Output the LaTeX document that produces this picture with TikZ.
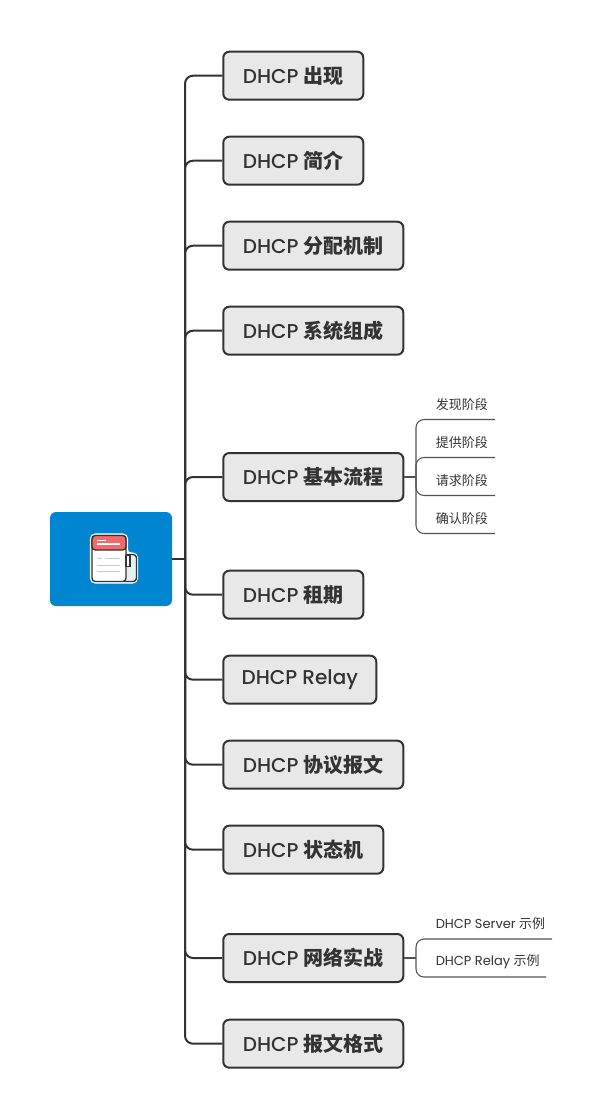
\documentclass[tikz,border=0pt]{standalone}
\usepackage{fontspec}
\setmainfont{Poppins}[BoldFont=Poppins Medium]
\newfontfamily\cjk{Noto Sans CJK SC}
\definecolor{ink}{HTML}{333333}
\definecolor{topicfill}{HTML}{E8E8E8}
\definecolor{rootblue}{HTML}{0085D0}
\definecolor{paperred}{HTML}{F26B6B}
\definecolor{paperroll}{HTML}{E4F1F1}
\definecolor{paperline}{HTML}{BCCFCF}
\newcommand{\zh}[1]{{\cjk\bfseries #1}}
\newcommand{\zhsub}[1]{{\cjk #1}}
\tikzstyle{rootbox} = [rectangle, rounded corners=4.5pt, minimum width=91.5pt, minimum height=70.5pt, fill=rootblue]
\tikzstyle{topicbox} = [rectangle, rounded corners=4.5pt, anchor=west, minimum height=36pt, inner sep=0pt, draw=ink, line width=1.5pt, fill=topicfill, text=ink, font=\fontsize{15pt}{18pt}\selectfont\bfseries]
\tikzstyle{short} = [minimum width=105pt]
\tikzstyle{long} = [minimum width=135pt]
\tikzstyle{subtext} = [anchor=west, inner sep=0pt, text=ink, font=\fontsize{9.75pt}{12pt}\selectfont]
\tikzstyle{branch} = [draw=ink, line width=1.5pt, rounded corners=6pt]
\tikzstyle{subbranch} = [draw=ink!85, line width=0.8pt, rounded corners=6pt]

\begin{document}
\begin{tikzpicture}[x=0.75pt, y=-0.75pt]
  \useasboundingbox (0,0) rectangle (602,1118);

  \node (root) [rootbox] at (111,559) {};
  \coordinate (trunk) at (185,559);

  \node (chuxian) [topicbox, short] at (222.3,75.7) {DHCP \zh{出现}};
  \node (jianjie) [topicbox, short] at (222.3,160.7) {DHCP \zh{简介}};
  \node (fenpei) [topicbox, long] at (222.3,245.7) {DHCP \zh{分配机制}};
  \node (xitong) [topicbox, long] at (222.3,330.7) {DHCP \zh{系统组成}};
  \node (liucheng) [topicbox, long] at (222.3,477) {DHCP \zh{基本流程}};
  \node (zuqi) [topicbox, short] at (222.3,594.7) {DHCP \zh{租期}};
  \node (relay) [topicbox, minimum width=114.75pt] at (222.3,679.7) {DHCP Relay};
  \node (xieyi) [topicbox, long] at (222.3,764.7) {DHCP \zh{协议报文}};
  \node (zhuangtai) [topicbox, minimum width=120pt] at (222.3,849.7) {DHCP \zh{状态机}};
  \node (wangluo) [topicbox, long] at (222.3,958) {DHCP \zh{网络实战}};
  \node (geshi) [topicbox, long] at (222.3,1043.7) {DHCP \zh{报文格式}};

  \draw [branch] (root.east) -- (trunk);
  \draw [branch] (trunk) |- (chuxian.west);
  \draw [branch] (trunk) |- (jianjie.west);
  \draw [branch] (trunk) |- (fenpei.west);
  \draw [branch] (trunk) |- (xitong.west);
  \draw [branch] (trunk) |- (liucheng.west);
  \draw [branch] (trunk) |- (zuqi.west);
  \draw [branch] (trunk) |- (relay.west);
  \draw [branch] (trunk) |- (xieyi.west);
  \draw [branch] (trunk) |- (zhuangtai.west);
  \draw [branch] (trunk) |- (wangluo.west);
  \draw [branch] (trunk) |- (geshi.west);

  % steps of the basic flow
  \node (faxian) [subtext] at (435.5,404.5) {\zhsub{发现阶段}};
  \node (tigong) [subtext] at (435.5,442.5) {\zhsub{提供阶段}};
  \node (qingqiu) [subtext] at (435.5,480.5) {\zhsub{请求阶段}};
  \node (queren) [subtext] at (435.5,518.5) {\zhsub{确认阶段}};
  \coordinate (flowfork) at (416,477);
  \coordinate (faxianend) at (495,419.5);
  \coordinate (tigongend) at (495,457.5);
  \coordinate (qingqiuend) at (495,495.5);
  \coordinate (querenend) at (495,533.5);
  \draw [subbranch] (liucheng.east) -- (flowfork);
  \draw [subbranch] (flowfork) |- (faxianend);
  \draw [subbranch] (flowfork) |- (tigongend);
  \draw [subbranch] (flowfork) |- (qingqiuend);
  \draw [subbranch] (flowfork) |- (querenend);

  % network practice
  \node (server) [subtext] at (435.5,923.5) {DHCP Server \zhsub{示例}};
  \node (relaylab) [subtext] at (435.5,961.5) {DHCP Relay \zhsub{示例}};
  \coordinate (labfork) at (416,958);
  \coordinate (serverend) at (552,939);
  \coordinate (relayend) at (546,977);
  \draw [subbranch] (wangluo.east) -- (labfork);
  \draw [subbranch] (labfork) |- (serverend);
  \draw [subbranch] (labfork) |- (relayend);

  % paper icon
  \draw [white, line width=2.4pt, rounded corners=3pt] (91.5,535) -- (126.5,535) -- (126.5,554) -- (136.5,554) -- (136.5,582) -- (91.5,582) -- cycle;
  \draw [ink, line width=1pt, fill=paperroll, rounded corners=2.5pt] (122,554.5) rectangle (136.5,581.5);
  \draw [ink, line width=1pt, fill=white, rounded corners=2.5pt] (92,535.5) -- (126,535.5) -- (126,581.5) -- (92,581.5) -- cycle;
  \draw [ink, line width=1pt, fill=paperred, rounded corners=2.5pt] (92,550) -- (92,535.5) -- (126,535.5) -- (126,550) -- cycle;
  \draw [ink, line width=1pt, fill=white] (126,555.5) -- (130,555.5) -- (130,566.5) -- (126,566.5) -- cycle;
  \draw [white, line width=1pt] (97,540.7) -- (106,540.7);
  \draw [white, line width=1pt] (97,544) -- (120,544);
  \draw [paperline, line width=1.1pt] (97,558.7) -- (102,558.7);
  \draw [paperline, line width=1.1pt] (105,558.7) -- (120,558.7);
  \draw [paperline, line width=1.1pt] (97,565.3) -- (120,565.3);
  \draw [paperline, line width=1.1pt] (97,571.3) -- (120,571.3);
\end{tikzpicture}
\end{document}
